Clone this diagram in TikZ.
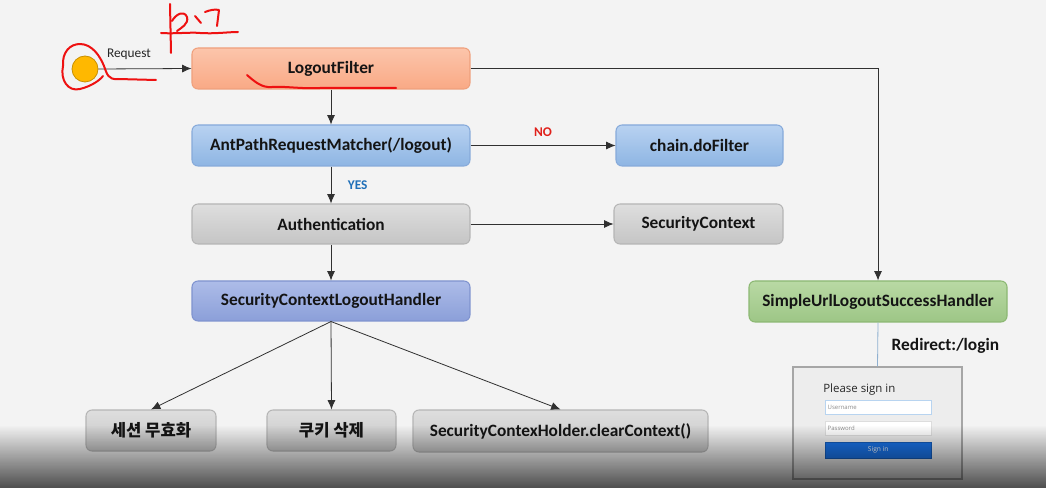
\documentclass[tikz,border=0pt]{standalone}
\usepackage{fontspec}
\setmainfont{Carlito}
\newfontfamily\krfont{Noto Sans CJK KR}
\newfontfamily\uifont{Open Sans}
\usetikzlibrary{arrows.meta,fadings}
\definecolor{bgc}{HTML}{F3F3F3}
\definecolor{orT}{HTML}{FCC5AB}
\definecolor{orB}{HTML}{F9A985}
\definecolor{orD}{HTML}{EFA07C}
\definecolor{blT}{HTML}{B8D2F1}
\definecolor{blB}{HTML}{8EB5E3}
\definecolor{blD}{HTML}{86AADA}
\definecolor{grT}{HTML}{DEDEDE}
\definecolor{grB}{HTML}{C5C5C5}
\definecolor{grD}{HTML}{B5B5B5}
\definecolor{puT}{HTML}{ADBCE8}
\definecolor{puB}{HTML}{8B9FD9}
\definecolor{puD}{HTML}{7F93CF}
\definecolor{gnT}{HTML}{B9D9A4}
\definecolor{gnB}{HTML}{9DC686}
\definecolor{gnD}{HTML}{8CB873}
\definecolor{lnc}{HTML}{303030}
\definecolor{nored}{HTML}{E0201A}
\definecolor{yesblue}{HTML}{1F6FB8}
\definecolor{pen}{HTML}{EE1111}
\definecolor{btn}{HTML}{1A73E8}
\definecolor{dotfill}{HTML}{FFB800}
\definecolor{dotline}{HTML}{C99000}
\definecolor{redir}{HTML}{8FB0D0}
\definecolor{fieldblue}{HTML}{B8D4F0}
\definecolor{fieldgray}{HTML}{DDDDDD}
\tikzfading[name=fadedown, top color=transparent!100, middle color=transparent!85, bottom color=transparent!32]
\tikzset{
  box/.style={rounded corners=4.5pt, line width=0.8pt, minimum height=30.75pt, inner sep=0pt,
    font=\bfseries\fontsize{13}{15}\selectfont, text=black!92},
  orbox/.style={box, draw=orD, top color=orT, bottom color=orB},
  blbox/.style={box, draw=blD, top color=blT, bottom color=blB},
  grbox/.style={box, draw=grD, top color=grT, bottom color=grB},
  pubox/.style={box, draw=puD, top color=puT, bottom color=puB},
  gnbox/.style={box, draw=gnD, top color=gnT, bottom color=gnB},
  arr/.style={draw=lnc, line width=0.6pt, -{Latex[length=7pt,width=6pt]}},
  penline/.style={draw=pen, line width=1.5pt, line cap=round, line join=round},
  field/.style={draw=#1, fill=white, line width=0.6pt, minimum width=79.5pt, minimum height=10.5pt, inner sep=1.5pt,
    font=\uifont\fontsize{4.5}{5}\selectfont, text=black!45, anchor=west, align=left, text width=76pt}
}
\begin{document}
\begin{tikzpicture}[x=0.75pt,y=-0.75pt]
\useasboundingbox (0,0) rectangle (1046,488);
\fill[bgc] (0,0) rectangle (1046,488);

% start point
\node[circle, draw=dotline, fill=dotfill, line width=0.6pt, minimum size=19.5pt, inner sep=0pt] (start) at (85,69) {};
\node[font=\fontsize{10}{11}\selectfont, text=black!85] (req) at (129,54) {Request};

% main nodes
\node[orbox, minimum width=208.5pt] (lf) at (331,68.5) {LogoutFilter};
\node[blbox, minimum width=208.5pt] (ap) at (331,145.5) {AntPathRequestMatcher(/logout)};
\node[blbox, minimum width=125.25pt] (ch) at (699.5,145.5) {chain.doFilter};
\node[grbox, minimum width=208.5pt, minimum height=30pt] (au) at (331,224) {Authentication};
\node[grbox, minimum width=126.75pt, minimum height=30pt] (sc) at (698.5,224) {SecurityContext};
\node[pubox, minimum width=208.5pt, minimum height=30pt] (sl) at (331,301) {SecurityContextLogoutHandler};
\node[gnbox, minimum width=193.5pt] (su) at (878,301.5) {SimpleUrlLogoutSuccessHandler};

\node[grbox, minimum width=97.5pt, font=\krfont\bfseries\fontsize{12.5}{14}\selectfont] (b1) at (151,430.5) {세션 무효화};
\node[grbox, minimum width=96.75pt, font=\krfont\bfseries\fontsize{12.5}{14}\selectfont] (b2) at (331.5,430.5) {쿠키 삭제};
\node[grbox, minimum width=221.25pt, minimum height=31.5pt, font=\bfseries\fontsize{13}{15}\selectfont] (b3) at (560.5,431) {SecurityContexHolder.clearContext()};

% connectors
\draw[arr] (start.east) -- (lf.west);
\draw[arr] (lf.east) -| (su.north);
\draw[arr] (lf.south) -- (ap.north);
\draw[arr] (ap.east) -- node[above=3pt, font=\bfseries\fontsize{10}{11}\selectfont, text=nored] (no) {NO} (ch.west);
\draw[arr] (ap.south) -- node[right=9pt, font=\bfseries\fontsize{10}{11}\selectfont, text=yesblue] (yes) {YES} (au.north);
\draw[arr] (au.east) -- (sc.west);
\draw[arr] (au.south) -- (sl.north);
\draw[arr] (sl.south) -- (b1.north);
\draw[arr] (sl.south) -- (b2.north);
\draw[arr] (sl.south) -- (b3.north);

% login panel
\node[draw=black!35, fill=black!7, line width=1.1pt, minimum width=126.75pt, minimum height=84pt, inner sep=0pt] (lp) at (877.5,423) {};
\draw[draw=redir, line width=0.6pt] (su.south) -- (lp.north);
\node[anchor=west, font=\bfseries\fontsize{13}{15}\selectfont, text=black!92] (rd) at (887,346) {Redirect:/login};
\node[anchor=west, inner sep=0pt, font=\uifont\fontsize{8.6}{10}\selectfont, text=black!85] (ps) at (823,390) {Please sign in};
\node[field=fieldblue] (un) at (825,407) {Username};
\node[field=fieldgray] (pw) at (825,428.5) {Password};
\node[fill=btn, draw=btn!80!black, line width=0.4pt, minimum width=79.5pt, minimum height=12pt, inner sep=0pt,
  font=\uifont\fontsize{5}{6}\selectfont, text=white, anchor=west] (si) at (825,450) {Sign in};

% red handwriting
\draw[penline] (63,66) .. controls (60,80) and (68,92) .. (80,89) .. controls (92,86) and (100,80) .. (103,76);
\draw[penline] (63,66) .. controls (62,52) and (70,44) .. (80,44) .. controls (92,44) and (100,56) .. (104,66)
  .. controls (107,74) and (108,80) .. (118,79) -- (156,80);
\draw[penline] (247,75) .. controls (255,82) and (262,88) .. (272,87) .. controls (285,86) and (300,89) .. (320,88) -- (396,88);
\draw[penline] (170,4) -- (171,53);
\draw[penline] (161,33) .. controls (175,34) and (190,32) .. (200,33) .. controls (215,34) and (228,32) .. (238,32);
\draw[penline] (172,21) .. controls (176,14) and (184,10) .. (187,17) .. controls (189,24) and (181,28) .. (177,31);
\draw[penline] (195,16) -- (201,23);
\draw[penline] (205,12) .. controls (210,10) and (215,9) .. (219,10) -- (217,26);

% bottom shadow overlay
\fill[black, path fading=fadedown] (0,425) rectangle (1046,488);
\end{tikzpicture}
\end{document}
